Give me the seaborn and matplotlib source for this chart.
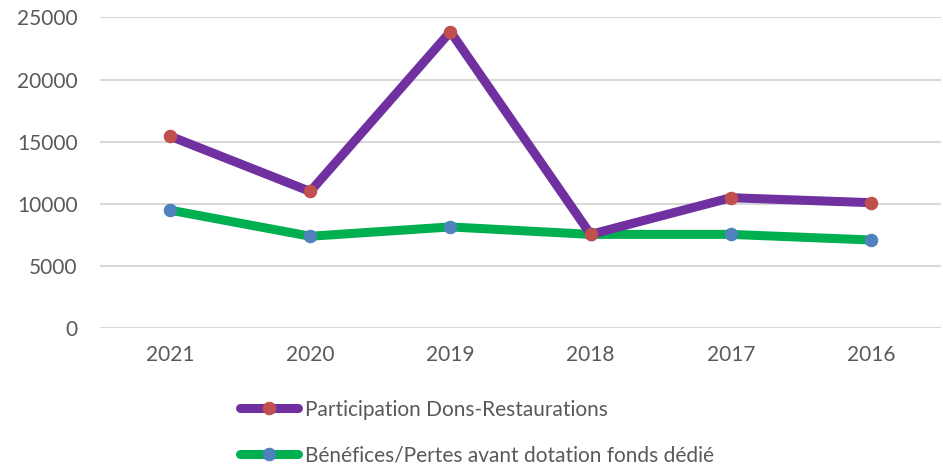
import pandas as pd
import matplotlib
matplotlib.use("Agg")
import matplotlib.pyplot as plt
import seaborn as sns

# data
years = ["2021", "2020", "2019", "2018", "2017", "2016"]
participation = [15450, 11000, 23850, 7550, 10500, 10100]
benefices = [9500, 7400, 8150, 7550, 7550, 7100]

label_part = "Participation Dons-Restaurations"
label_bene = "Bénéfices/Pertes avant dotation fonds dédié"

df = pd.DataFrame({"annee": years, "participation": participation, "benefices": benefices})

sns.set_style("white")
plt.rcParams["font.family"] = ["Lato", "DejaVu Sans"]

fig = plt.figure(figsize=(9.43, 4.69), dpi=100)
ax = fig.add_axes([0.106, 0.300, 0.892, 0.663])

# green first so purple sits on top
sns.lineplot(data=df, x="annee", y="benefices", ax=ax, color="#00B050",
             linewidth=6.5, marker="o", markersize=9,
             markerfacecolor="#4F81BD", markeredgecolor="#4F81BD",
             label=label_bene, sort=False)
sns.lineplot(data=df, x="annee", y="participation", ax=ax, color="#7030A0",
             linewidth=6.5, marker="o", markersize=9,
             markerfacecolor="#C0504D", markeredgecolor="#C0504D",
             label=label_part, sort=False)

ax.set_ylim(0, 25000)
ax.set_xlim(-0.5, len(years) - 0.5)
ax.set_yticks(range(0, 25001, 5000))
ax.yaxis.grid(True, color="#D9D9D9", linewidth=1.5)
ax.set_axisbelow(True)
for s in ax.spines.values():
    s.set_visible(False)
ax.tick_params(axis="both", length=0, labelsize=15, labelcolor="#595959")
ax.tick_params(axis="y", pad=16)
ax.tick_params(axis="x", pad=12)
ax.set_xlabel("")
ax.set_ylabel("")

# legend below, purple series first
handles, labels = ax.get_legend_handles_labels()
order = [labels.index(label_part), labels.index(label_bene)]
ax.legend([handles[i] for i in order], [labels[i] for i in order],
          loc="upper left", bbox_to_anchor=(0.2545, 0.148),
          bbox_transform=fig.transFigure, frameon=False, fontsize=15,
          labelcolor="#595959", handlelength=2.8, handletextpad=0.3,
          labelspacing=1.25, borderpad=0, borderaxespad=0)

fig.savefig("out.png", dpi=100)
